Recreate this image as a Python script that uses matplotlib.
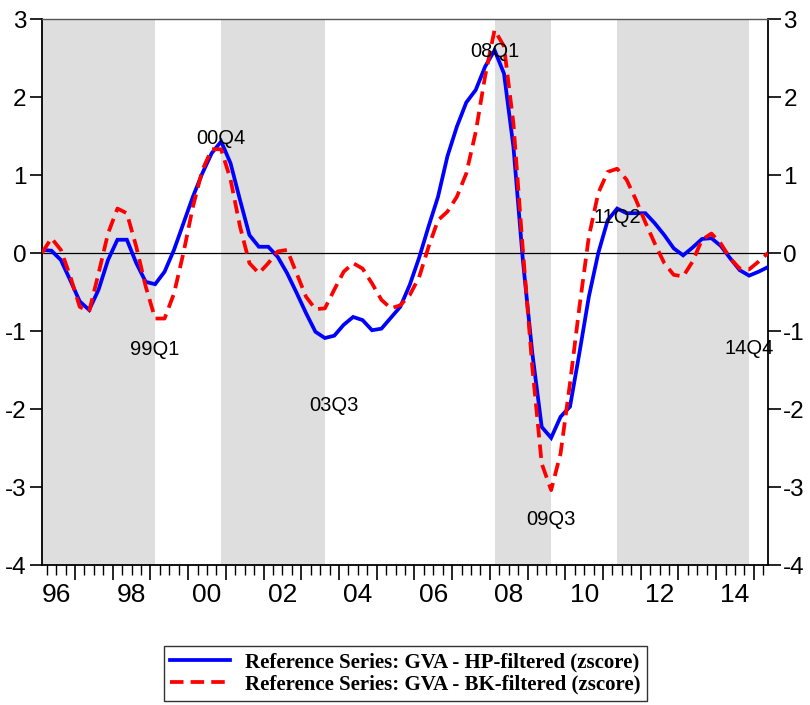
import numpy as np
import matplotlib
matplotlib.use("Agg")
import matplotlib.pyplot as plt

plt.rcParams["axes.unicode_minus"] = False

# quarterly data 1996Q1 - 2015Q2
start_year = 1996
hp_filtered = [0.04, 0.03, -0.09, -0.35, -0.62, -0.73, -0.47, -0.09, 0.17, 0.17,
               -0.13, -0.37, -0.40, -0.24, 0.04, 0.38, 0.72, 1.02, 1.28, 1.43,
               1.15, 0.68, 0.23, 0.08, 0.08, -0.05, -0.26, -0.51, -0.77, -1.01,
               -1.09, -1.06, -0.92, -0.82, -0.86, -0.99, -0.97, -0.83, -0.69, -0.41,
               -0.06, 0.34, 0.72, 1.24, 1.62, 1.93, 2.09, 2.39, 2.60, 2.30,
               1.36, -0.09, -1.28, -2.23, -2.37, -2.10, -1.97, -1.28, -0.56, 0.00,
               0.42, 0.57, 0.51, 0.51, 0.51, 0.38, 0.23, 0.06, -0.03, 0.07,
               0.18, 0.19, 0.09, -0.07, -0.22, -0.29, -0.24, -0.18]
bk_filtered = [0.00, 0.19, 0.04, -0.30, -0.69, -0.75, -0.26, 0.25, 0.57, 0.51,
               0.08, -0.43, -0.84, -0.84, -0.52, 0.00, 0.59, 1.06, 1.33, 1.33,
               0.94, 0.34, -0.13, -0.26, -0.13, 0.02, 0.04, -0.26, -0.56, -0.72,
               -0.71, -0.47, -0.24, -0.13, -0.20, -0.39, -0.60, -0.71, -0.67, -0.54,
               -0.31, 0.08, 0.42, 0.53, 0.72, 1.02, 1.55, 2.27, 2.86, 2.65,
               1.66, 0.04, -1.46, -2.70, -3.04, -2.57, -1.67, -0.69, 0.21, 0.77,
               1.04, 1.08, 0.94, 0.68, 0.39, 0.12, -0.13, -0.28, -0.30, -0.11,
               0.17, 0.25, 0.12, -0.07, -0.20, -0.21, -0.11, 0.00]

# shaded phases (first quarter, last quarter)
shade_start = ["1996Q1", "2000Q4", "2008Q1", "2011Q2"]
shade_end = ["1999Q1", "2003Q3", "2009Q3", "2014Q4"]

# turning point labels and where they sit
label_text = ["99Q1", "00Q4", "03Q3", "08Q1", "09Q3", "11Q2", "14Q4"]
label_quarter = ["1999Q1", "2000Q4", "2003Q4", "2008Q1", "2009Q3", "2011Q2", "2014Q4"]
label_value = [-1.24, 1.47, -1.95, 2.58, -3.42, 0.45, -1.22]

year_labels = ["96", "98", "00", "02", "04", "06", "08", "10", "12", "14"]
legend_labels = ["Reference Series: GVA - HP-filtered (zscore)",
                 "Reference Series: GVA - BK-filtered (zscore)"]


def qpos(q):
    # center of the quarter on a year scale
    y, k = q.split("Q")
    return int(y) + (int(k) - 0.5) / 4


n = len(hp_filtered)
x = start_year + (np.arange(n) + 0.5) / 4

fig = plt.figure(figsize=(8.1, 7.05), dpi=100)
ax = fig.add_axes([42 / 810, 140 / 705, 726 / 810, 546 / 705])

for s, e in zip(shade_start, shade_end):
    ax.axvspan(qpos(s), qpos(e), color="#dedede", lw=0, zorder=0)

ax.axhline(0, color="black", lw=0.9, zorder=1)

ax.plot(x, hp_filtered, color="#0000ff", lw=2.7, zorder=3,
        solid_joinstyle="miter", label=legend_labels[0])
ax.plot(x, bk_filtered, color="#ff0000", lw=2.7, zorder=4,
        dashes=(3.6, 1.9), label=legend_labels[1])

for t, q, v in zip(label_text, label_quarter, label_value):
    ax.text(qpos(q), v, t, fontsize=14.5, ha="center", va="center",
            family="Liberation Sans", zorder=5)

ax.set_xlim(x[0], x[-1])
ax.set_ylim(-4, 3)
ax.set_yticks(range(-4, 4))

# x ticks: years as major, quarters as minor
years = np.arange(start_year + 1, start_year + 20)
ax.set_xticks(years)
ax.set_xticklabels([])
quarters = [yy + k / 4 for yy in range(start_year, start_year + 20) for k in (1, 2, 3)]
ax.set_xticks([q for q in quarters if x[0] < q < x[-1]], minor=True)
ax.tick_params(axis="x", which="major", direction="out", length=11, width=1.2)
ax.tick_params(axis="x", which="minor", direction="out", length=7, width=1.0)

ax.tick_params(axis="y", direction="out", length=9, width=1.2, labelsize=17.5,
               left=True, right=True, labelleft=True, labelright=True, pad=2)
for lab in ax.get_yticklabels():
    lab.set_family("Liberation Sans")

sec = ax.secondary_xaxis("bottom")
sec.set_xticks([int("19" + s) + 0.5 if int(s) > 50 else int("20" + s) + 0.5
                for s in year_labels])
sec.set_xticklabels(year_labels, fontsize=19, family="Liberation Sans")
sec.tick_params(length=0, pad=13)
sec.spines["bottom"].set_visible(False)

for side in ["left", "right", "bottom"]:
    ax.spines[side].set_linewidth(1.3)
ax.spines["top"].set_linewidth(1.0)
ax.spines["top"].set_color("#555555")

leg = fig.legend(loc="center", bbox_to_anchor=(0.5, 0.045),
                 prop={"family": "Liberation Serif", "weight": "bold", "size": 15},
                 frameon=True, fancybox=False, edgecolor="black",
                 handlelength=2.9, handletextpad=0.7, labelspacing=0.1,
                 borderpad=0.3, borderaxespad=0)
leg.get_frame().set_linewidth(1.0)

fig.savefig("out.png", dpi=100)
